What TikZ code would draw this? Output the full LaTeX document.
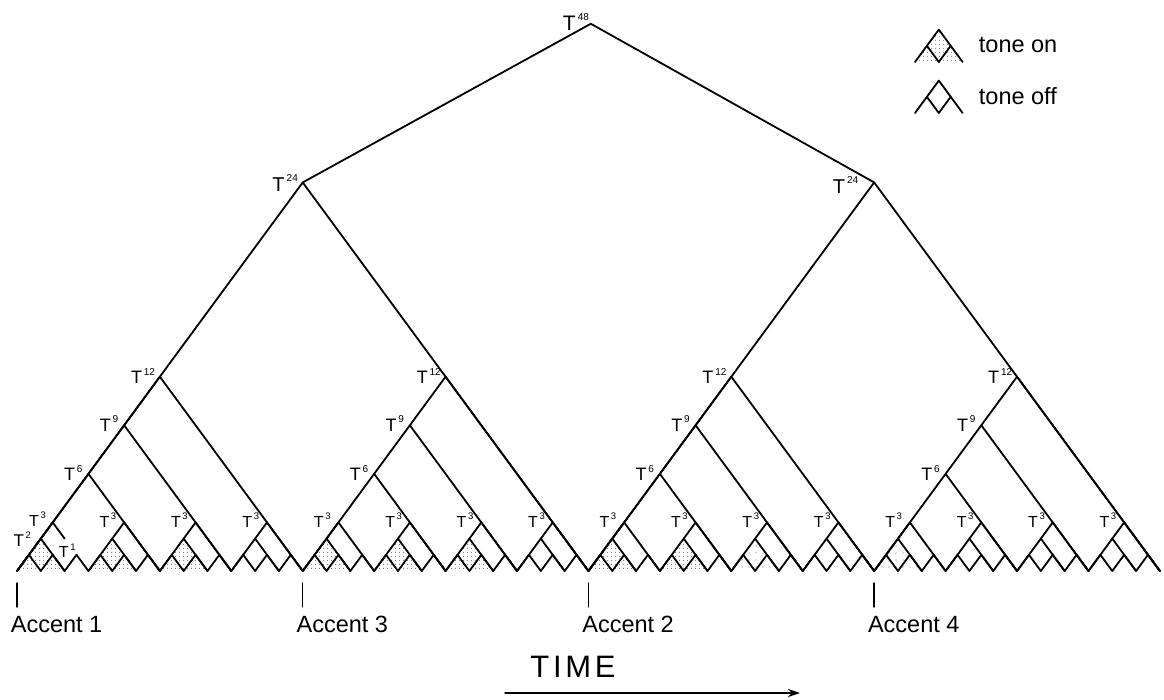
\documentclass[tikz,border=0pt]{standalone}
\usepackage{fontspec}
\setmainfont{Liberation Sans}
\usetikzlibrary{patterns.meta,calc,arrows.meta}
\newcommand\Tn[3]{{\fontsize{#1}{#1}\selectfont T\kern0.1em\raisebox{0.48em}{\fontsize{#3}{#3}\selectfont #2}}}
\tikzset{
  on/.style={pattern={Dots[distance=4pt,radius=0.6pt]},pattern color=black!75},
  faint/.style={pattern={Dots[distance=7pt,radius=0.55pt]},pattern color=black!55},
  lab/.style={anchor=base east,inner sep=0pt},
  txt/.style={anchor=base west,inner sep=0pt,font=\fontsize{23.5}{23.5}\selectfont},
  tree/.style={shift={(17,571)},x=23.81pt,y=32.38pt}
}
\begin{document}
\begin{tikzpicture}[x=1pt,y=-1pt,line width=1.8pt,line cap=round,line join=round]
\useasboundingbox (0,0) rectangle (1164,700);
\begin{scope}[tree]
  \coordinate (b0) at (0,0);
  \coordinate (b12) at (12,0);
  \coordinate (b24) at (24,0);
  \coordinate (b36) at (36,0);
  \coordinate (b48) at (48,0);
  \coordinate (t48) at (24.1,16.9);
  \coordinate (t24a) at (12,12);
  \coordinate (t24b) at (36,12);
  \coordinate (p2) at (2.5,0.5);
  \foreach \i/\O in {0/0,1/12,2/24,3/36}{
    \coordinate (t12-\i) at (\O+6,6);
    \coordinate (t9-\i) at (\O+4.5,4.5);
    \coordinate (t6-\i) at (\O+3,3);
    \coordinate (e6-\i) at (\O+6,0);
    \coordinate (e9-\i) at (\O+9,0);
    \coordinate (e12-\i) at (\O+12,0);
    \coordinate (s12-\i) at (\O,0);
  }
  \foreach \j in {0,...,15}{
    \coordinate (s-\j) at (3*\j,0);
    \coordinate (t3-\j) at (3*\j+1.5,1.5);
    \coordinate (t2-\j) at (3*\j+1,1);
    \coordinate (m-\j) at (3*\j+2,0);
    \coordinate (e-\j) at (3*\j+3,0);
  }
  % shading of tone-on units
  \foreach \j in {0,1,2,4,5,6,8,9}{
    \fill[on] (s-\j) -- (t2-\j) -- (m-\j) -- cycle;
  }
  \foreach \j in {10,12}{
    \fill[faint] (s-\j) -- (t2-\j) -- (m-\j) -- cycle;
  }
  % zigzag base
  \draw (b0) \foreach \k in {0,...,47}{ -- (\k+0.5,0.5) -- (\k+1,0)};
  % T3 units
  \draw (s-0) -- (t3-0) -- ($(t3-0)!0.5!(p2)$);
  \draw (t2-0) -- (m-0);
  \foreach \j in {1,...,15}{
    \draw (s-\j) -- (t3-\j) -- (e-\j);
    \draw (t2-\j) -- (m-\j);
  }
  % T12 units
  \foreach \i in {0,...,3}{
    \draw (s12-\i) -- (t12-\i) -- (e12-\i);
    \draw (t6-\i) -- (e6-\i);
    \draw (t9-\i) -- (e9-\i);
  }
  % T24 and T48
  \draw (b0) -- (t24a) -- (b24);
  \draw (b24) -- (t24b) -- (b48);
  \draw (t24a) -- (t48) -- (t24b);
\end{scope}
% labels
\node[lab] (l48) at ([xshift=-1pt,yshift=-7pt]t48) {\Tn{21}{48}{10}};
\node[lab] (l24a) at ([xshift=-4pt,yshift=-9pt]t24a) {\Tn{20}{24}{10}};
\node[lab] (l24b) at ([xshift=-15pt,yshift=-11pt]t24b) {\Tn{20}{24}{10}};
\foreach \i in {0,...,3}{
  \node[lab] (l12-\i) at ([xshift=-4pt,yshift=-7pt]t12-\i) {\Tn{18}{12}{10}};
  \node[lab] (l9-\i) at ([xshift=-5pt,yshift=-6pt]t9-\i) {\Tn{18}{9}{10}};
  \node[lab] (l6-\i) at ([xshift=-5pt,yshift=-7pt]t6-\i) {\Tn{18}{6}{10}};
}
\node[lab] (l3-0) at ([xshift=-6pt,yshift=-4pt]t3-0) {\Tn{16}{3}{9.5}};
\foreach \j in {1,...,15}{
  \node[lab] (l3-\j) at ([xshift=-7pt,yshift=-5pt]t3-\j) {\Tn{16}{3}{9.5}};
}
\node[lab] (l2) at ([xshift=-9pt,yshift=-8pt]t2-0) {\Tn{17}{2}{9.5}};
\node[anchor=base west,inner sep=0pt] (l1) at ([xshift=-18.5pt,yshift=-3pt]p2) {\Tn{16}{1}{9.5}};
% accents
\foreach \b/\t in {b0/1,b12/3,b24/2,b36/4}{
  \draw[line width=1.4pt] ([yshift=-12pt]\b) -- ([yshift=-36pt]\b);
  \node[txt] (acc\t) at ([xshift=-7pt,yshift=-61pt]\b) {Accent \t};
}
% time arrow
\node[anchor=base,inner sep=0pt,font=\fontsize{31}{31}\selectfont\addfontfeatures{LetterSpace=12}] (time) at (573,677) {TIME};
\coordinate (a0) at (505,693);
\coordinate (a1) at (800,693);
\draw[line width=1.4pt,-{Stealth[length=12pt,width=8pt]}] (a0) -- (a1);
% legend
\begin{scope}[shift={(915,62)},x=23.81pt,y=32.38pt]
  \coordinate (g0) at (0,0);
  \coordinate (g1) at (1,1);
  \coordinate (g2) at (2,0);
  \coordinate (g3) at (0.5,0.5);
  \coordinate (g4) at (1,0);
  \coordinate (g5) at (1.5,0.5);
  \fill[on] (g0) -- (g1) -- (g2) -- cycle;
  \draw (g0) -- (g1) -- (g2);
  \draw (g3) -- (g4) -- (g5);
\end{scope}
\begin{scope}[shift={(915,113)},x=23.81pt,y=32.38pt]
  \coordinate (h0) at (0,0);
  \coordinate (h1) at (1,1);
  \coordinate (h2) at (2,0);
  \coordinate (h3) at (0.5,0.5);
  \coordinate (h4) at (1,0);
  \coordinate (h5) at (1.5,0.5);
  \draw (h0) -- (h1) -- (h2);
  \draw (h3) -- (h4) -- (h5);
\end{scope}
\node[txt] (on) at (978,53) {tone on};
\node[txt] (off) at (978,105) {tone off};
\end{tikzpicture}
\end{document}
